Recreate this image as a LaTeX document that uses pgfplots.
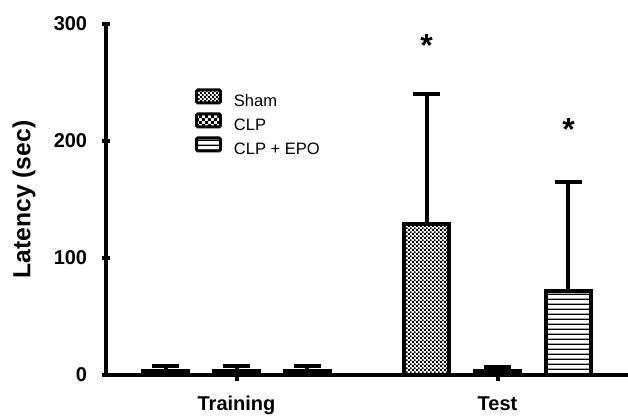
\documentclass[border=0pt]{standalone}
\usepackage{fontspec}
\setmainfont{Liberation Sans}
\usepackage{pgfplots}
\usepackage{pgfplotstable}
\pgfplotsset{compat=1.18}
\usetikzlibrary{patterns}

\pgfdeclarepatternformonly{finecheck}{\pgfqpoint{0pt}{0pt}}{\pgfqpoint{3.2pt}{3.2pt}}{\pgfqpoint{3.2pt}{3.2pt}}{%
 \pgfpathrectangle{\pgfqpoint{0pt}{0pt}}{\pgfqpoint{1.6pt}{1.6pt}}%
 \pgfpathrectangle{\pgfqpoint{1.6pt}{1.6pt}}{\pgfqpoint{1.6pt}{1.6pt}}%
 \pgfusepath{fill}}
\pgfdeclarepatternformonly{coarsecheck}{\pgfqpoint{0pt}{0pt}}{\pgfqpoint{4.4pt}{4.4pt}}{\pgfqpoint{4.4pt}{4.4pt}}{%
 \pgfpathrectangle{\pgfqpoint{0pt}{0pt}}{\pgfqpoint{2.2pt}{2.2pt}}%
 \pgfpathrectangle{\pgfqpoint{2.2pt}{2.2pt}}{\pgfqpoint{2.2pt}{2.2pt}}%
 \pgfusepath{fill}}
\pgfdeclarepatternformonly{hstripes}{\pgfqpoint{0pt}{0pt}}{\pgfqpoint{4pt}{4pt}}{\pgfqpoint{4pt}{4pt}}{%
 \pgfpathrectangle{\pgfqpoint{0pt}{0pt}}{\pgfqpoint{4pt}{1.2pt}}%
 \pgfusepath{fill}}

\pgfplotstableread{
x y e
-0.272 3 5
0.728 129 111
}\shamdata
\pgfplotstableread{
x y e
0 3 5
1 3 4
}\clpdata
\pgfplotstableread{
x y e
0.272 3 5
1.272 72 93
}\epodata

\pgfplotsset{
 mybar/.style={ybar, bar width=0.176, bar shift=0pt, draw=black, line width=3pt,
   legend image code/.code={\draw[##1, line width=2.2pt, rounded corners=1pt] (0pt,-0.5pt) rectangle (18pt,9.25pt);},
   error bars/.cd, y dir=plus, y explicit,
   error bar style={line width=3pt, black, solid},
   error mark options={rotate=90, line width=3pt, mark size=10pt, black},
   /pgfplots/.cd},
 common/.style={at={(79.5pt,31.5pt)}, anchor=south west, scale only axis,
   width=391.5pt, height=263.25pt,
   xmin=-0.5, xmax=1.5, ymin=0, ymax=300,
   tick align=outside,
   tick style={line width=3pt, black},
   ticklabel style={font=\bfseries\fontsize{15}{15}\selectfont},
   /pgf/number format/assume math mode=true,
   clip=false},
}

\begin{document}
\begin{tikzpicture}
\path[use as bounding box] (0,0) rectangle (471pt,312.75pt);
% x axis with its longer ticks
\begin{axis}[common,
 axis x line=bottom, axis y line=none,
 axis line style={line width=3pt,-},
 xtick={0,1}, xticklabels={Training,Test}, ytick=\empty,
 major tick length=9pt,
 xticklabel style={yshift=-8pt},
]
\end{axis}
\begin{axis}[common,
 axis x line=bottom, axis y line=left,
 axis line style={line width=3pt,-},
 ytick={0,100,200,300}, xtick=\empty,
 major tick length=5.25pt,
 yticklabel style={xshift=-8pt},
 ylabel={Latency (sec)},
 ylabel style={font=\bfseries\fontsize{18.5}{18.5}\selectfont, at={(axis description cs:-0.157,0.5)}, anchor=center},
 legend style={draw=none, fill=none, at={(rel axis cs:0.17,0.817)}, anchor=north west,
   inner sep=0pt, font=\fontsize{12.4}{12.4}\selectfont,
   nodes={inner sep=0pt, text height=9pt, text depth=2.5pt},
   row sep=1.9pt, /tikz/every odd column/.append style={column sep=9pt}},
 legend cell align=left,
]
\addplot[mybar, pattern=finecheck] table[x=x, y=y, y error=e]{\shamdata};
\addlegendentry{Sham}
\addplot[mybar, pattern=coarsecheck] table[x=x, y=y, y error=e]{\clpdata};
\addlegendentry{CLP}
\addplot[mybar, pattern=hstripes] table[x=x, y=y, y error=e]{\epodata};
\addlegendentry{CLP + EPO}
\addplot[forget plot, draw=none, mark=none, nodes near coords={*},
  every node near coord/.append style={anchor=base, inner sep=0pt, font=\bfseries\fontsize{24}{24}\selectfont}]
  coordinates {(0.728,272.6) (1.272,200.6)};
\end{axis}
\end{tikzpicture}
\end{document}
